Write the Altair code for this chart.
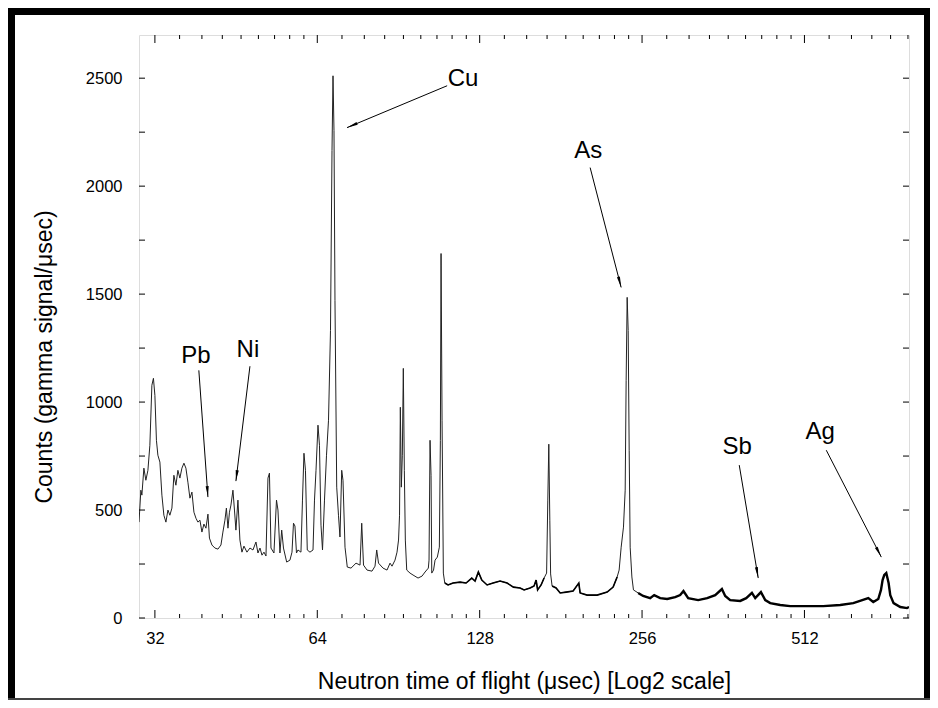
import altair as alt
import pandas as pd

# ---- spectrum (neutron time of flight in usec, counts) ----
time_us = [
    29.9, 30.14, 30.27, 30.53, 30.79, 31.06, 31.32, 31.59, 31.80, 32.00, 32.21, 32.41, 32.69,
    32.97, 33.25, 33.54, 33.83, 34.11, 34.41, 34.70, 35.00, 35.30, 35.60, 35.91, 36.22, 36.53,
    36.84, 37.16, 37.48, 37.80, 38.13, 38.45, 38.78, 39.11, 39.45, 39.79, 40.13, 40.39, 40.82,
    41.34, 41.88, 42.42, 42.78, 43.15, 43.42, 43.71, 43.99, 44.27, 44.65, 44.94, 45.22, 45.61,
    46.00, 46.40, 46.80, 47.40, 48.01, 48.63, 49.26, 49.68, 50.11, 50.54, 50.97, 51.41,
    51.85, 52.18, 52.52, 53.19, 53.77, 54.11, 54.57, 54.98, 55.40, 56.16, 56.95, 57.45, 57.82,
    58.18, 58.56, 58.93, 59.69, 60.08, 60.46, 60.85, 61.32, 62.03, 62.84, 63.24, 63.65, 64.19,
    64.60, 65.02, 65.44, 66.00, 66.57, 67.14, 67.71, 68.15, 68.44, 68.73, 69.02, 69.53, 70.06,
    70.51, 71.03, 71.42, 72.04, 72.74, 73.91, 75.50, 76.81, 77.37, 77.96, 79.14, 80.84, 81.88,
    82.48, 83.12, 84.73, 86.19, 87.30,
    88.05, 89.18, 89.95, 90.53, 90.92, 91.23, 91.62, 92.01, 92.40, 92.80, 93.20, 93.75, 95.08,
    96.31, 98.39, 100.08, 101.38, 102.81, 103.12, 103.56, 104.01, 104.32, 105.13, 105.80,
    106.84, 107.76, 108.23, 108.55, 109.01, 109.62, 110.28, 111.84, 114.25, 117.72, 120.79,
    123.76, 125.51, 127.29, 129.15, 132.11, 135.54, 139.65, 143.89, 147.81, 152.10,
    154.73, 158.73, 161.47, 162.87, 163.92, 166.37, 168.51, 170.33, 171.20, 171.94, 172.68,
    173.27, 174.37, 177.38, 180.44, 185.13, 190.75, 195.43, 196.53, 202.50, 211.34, 220.56,
    226.27, 230.17, 232.14, 234.15, 236.47, 238.20, 239.19, 240.23, 241.27, 242.30, 243.33,
    245.11, 246.78, 251.79, 257.20, 265.01,
    269.57, 276.58, 284.95, 294.86, 301.24, 305.51, 311.71, 325.30, 338.05, 349.80, 359.96,
    365.06, 372.92, 389.22, 399.31, 409.16, 414.98, 425.19, 433.08, 442.42, 461.75, 481.87,
    518.16, 554.80, 596.58, 630.63, 655.31, 672.36, 686.85, 701.70, 709.84, 714.70, 719.92,
    726.07, 733.29, 738.56, 749.06, 770.82, 793.19, 800.0,
]
counts = [
    444, 592, 569, 694, 638, 684, 800, 1078, 1110, 1031, 823, 754, 722,
    569, 476, 444, 500, 476, 509, 661, 615, 684, 648, 694, 717, 694,
    629, 555, 583, 490, 462, 444, 453, 398, 435, 416, 481, 370, 338,
    324, 319, 338, 398, 453, 509, 416, 490, 523, 592, 500, 407, 546,
    361, 305, 333, 305, 324, 315, 352, 301, 324, 291, 305, 287,
    648, 671, 324, 301, 546, 500, 301, 407, 324, 259, 268, 305, 439,
    426, 301, 315, 305, 546, 763, 684, 315, 305, 315, 546, 684, 893,
    800, 430, 315, 546, 754, 916, 1332, 2165, 2511, 2257, 1471, 606, 476,
    375, 684, 638, 328, 236, 231, 254, 245, 439, 245, 222, 217, 240,
    315, 254, 231, 222, 254,
    240, 268, 305, 361, 476, 976, 606, 754, 1156, 684, 361, 222, 208,
    199, 185, 194, 213, 231, 268, 823, 661, 208, 222, 268,
    282, 328, 823, 1688, 916, 208, 162, 153, 162, 166, 162,
    185, 171, 213, 176, 153, 162, 171, 162, 143, 139,
    130, 139, 148, 176, 130, 153, 185, 208, 546, 805, 453,
    204, 148, 139, 116, 120, 125, 162, 116, 106, 106, 120,
    143, 190, 222, 328, 421, 592, 1101, 1485, 1332, 777, 328,
    190, 130, 116, 102, 92,
    106, 92, 88, 97, 106, 125, 92, 83, 92, 106, 134,
    102, 83, 79, 92, 116, 92, 120, 83, 69, 60, 55,
    55, 55, 60, 69, 83, 92, 74, 88, 130, 176, 199,
    208, 162, 106, 69, 51, 46, 51,
]

# ---- axes ----
x_major = [32, 64, 128, 256, 512]
x_octave_starts = [32, 64, 128, 256, 512]
y_major = [0, 500, 1000, 1500, 2000, 2500]
y_minor = [250, 750, 1250, 1750, 2250]
x_min, x_max = 29.9, 800
y_min, y_max = 0, 2700

# ---- element annotations ----
label_text = ["Cu", "As", "Pb", "Ni", "Sb", "Ag"]
label_x = [119.2, 203.4, 38.13, 47.6, 384.3, 547.7]
label_y = [2497, 2165, 1212, 1240, 791, 860]
arrow_x1 = [111.4, 205.1, 38.6, 48.01, 387.6, 562.0]
arrow_y1 = [2465, 2086, 1147, 1166, 708, 777]
arrow_x2 = [72.65, 234.15, 40.13, 45.22, 420.3, 710.8]
arrow_y2 = [2271, 1531, 560, 634, 185, 282]
arrow_angle = [247.2, 165.5, 175.9, 186.9, 170.5, 152.8]

W, H = 770, 583
FONT = "Liberation Sans"

spec = pd.DataFrame({"t": time_us, "c": counts})
x_minor = [b * (1 + k / 9) for b in x_octave_starts for k in range(1, 9)]
x_minor = [v for v in x_minor if x_min < v < x_max]
xmaj_df = pd.DataFrame({"v": x_major})
xmin_df = pd.DataFrame({"v": x_minor})
ymaj_df = pd.DataFrame({"v": y_major})
ymin_df = pd.DataFrame({"v": y_minor})
ann = pd.DataFrame({"label": label_text, "lx": label_x, "ly": label_y,
                    "x1": arrow_x1, "y1": arrow_y1, "x2": arrow_x2, "y2": arrow_y2,
                    "ang": arrow_angle})

xs = alt.Scale(type="log", base=2, domain=[x_min, x_max], nice=False)
ys = alt.Scale(domain=[y_min, y_max], nice=False)

XT = "Neutron time of flight (\u03bcsec) [Log2 scale]"
YT = "Counts (gamma signal/\u03bcsec)"
x_axis = alt.Axis(
    values=x_major, ticks=False, tickSize=0, domain=False, grid=False, format="d",
    labelFont=FONT, labelFontSize=16.5, labelPadding=12, labelColor="black",
    title=XT, titleFont=FONT, titleFontSize=23, titleFontWeight="normal",
    titleColor="black", titleX=W / 2, titleY=63, titleAlign="center",
    titleBaseline="middle")
y_axis = alt.Axis(
    values=y_major, ticks=False, tickSize=0, domain=False, grid=False, format="d",
    labelFont=FONT, labelFontSize=16.5, labelPadding=17, labelColor="black",
    title=None)

def X(f):
    return alt.X(f, scale=xs, axis=x_axis, title=XT)

def Y(f):
    return alt.Y(f, scale=ys, axis=y_axis, title=None)

line = alt.Chart(spec).mark_line(color="#222222", strokeWidth=1, clip=True).encode(
    x=X("t:Q"), y=Y("c:Q"))

# the dense noise makes the low-level stretches look bolder in the original
def bold(lo, hi, width):
    return alt.Chart(spec).transform_filter(
        (alt.datum.t >= lo) & (alt.datum.t <= hi)
    ).mark_line(color="#000000", strokeWidth=width, clip=True).encode(
        x=X("t:Q"), y=Y("c:Q"))

bold_parts = [bold(110, 169, 1.6), bold(174, 231, 1.6), bold(250, 800, 2.4)]

def xticks(df, length):
    base = alt.Chart(df).mark_rule(color="black", strokeWidth=1)
    bottom = base.encode(x=X("v:Q"), y=alt.value(H), y2=alt.value(H - length))
    top = base.encode(x=X("v:Q"), y=alt.value(0), y2=alt.value(length))
    return [bottom, top]

def yticks(df, length):
    base = alt.Chart(df).mark_rule(color="black", strokeWidth=1)
    left = base.encode(y=Y("v:Q"), x=alt.value(0), x2=alt.value(length))
    right = base.encode(y=Y("v:Q"), x=alt.value(W - length), x2=alt.value(W))
    return [left, right]

arrows = alt.Chart(ann).mark_rule(color="black", strokeWidth=1).encode(
    x=X("x1:Q"), x2="x2:Q", y=Y("y1:Q"), y2="y2:Q")
heads = alt.Chart(ann).mark_point(
    shape="M0,0 L0.28,2 L-0.28,2 Z", filled=True, color="black", opacity=1, size=120
).encode(x=X("x2:Q"), y=Y("y2:Q"), angle=alt.Angle("ang:Q", scale=None))
labels = alt.Chart(ann).mark_text(
    font=FONT, fontSize=24, color="black", align="center", baseline="middle"
).encode(x=X("lx:Q"), y=Y("ly:Q"), text="label:N")

one = pd.DataFrame({"k": [0]})
y_title = alt.Chart(pd.DataFrame({"txt": [YT]})).mark_text(
    font=FONT, fontSize=23, color="black", angle=270, align="center", baseline="middle"
).encode(x=alt.value(-94), y=alt.value(322), text="txt:N")

def band(x, x2, y, y2, color="black"):
    return alt.Chart(one).mark_rect(color=color).encode(
        x=alt.value(x), x2=alt.value(x2), y=alt.value(y), y2=alt.value(y2))

frame = [
    band(-131, 791, -27, -20),
    band(-131, -124, -27, 665),
    band(785, 791, -27, 665),
    band(-131, 791, 663, 665, "#444444"),
]

layers = [line] + bold_parts + xticks(xmaj_df, 8) + xticks(xmin_df, 4) + \
    yticks(ymaj_df, 6) + yticks(ymin_df, 6) + [arrows, heads, labels, y_title] + frame

chart = alt.layer(*layers).properties(
    width=W, height=H,
    padding={"left": 131, "top": 27, "right": 21, "bottom": 82},
    autosize=alt.AutoSizeParams(type="none"),
).configure_view(stroke="black", strokeWidth=1).configure(background="white")

chart.save("out.html", embed_options={"renderer": "svg", "actions": False})
